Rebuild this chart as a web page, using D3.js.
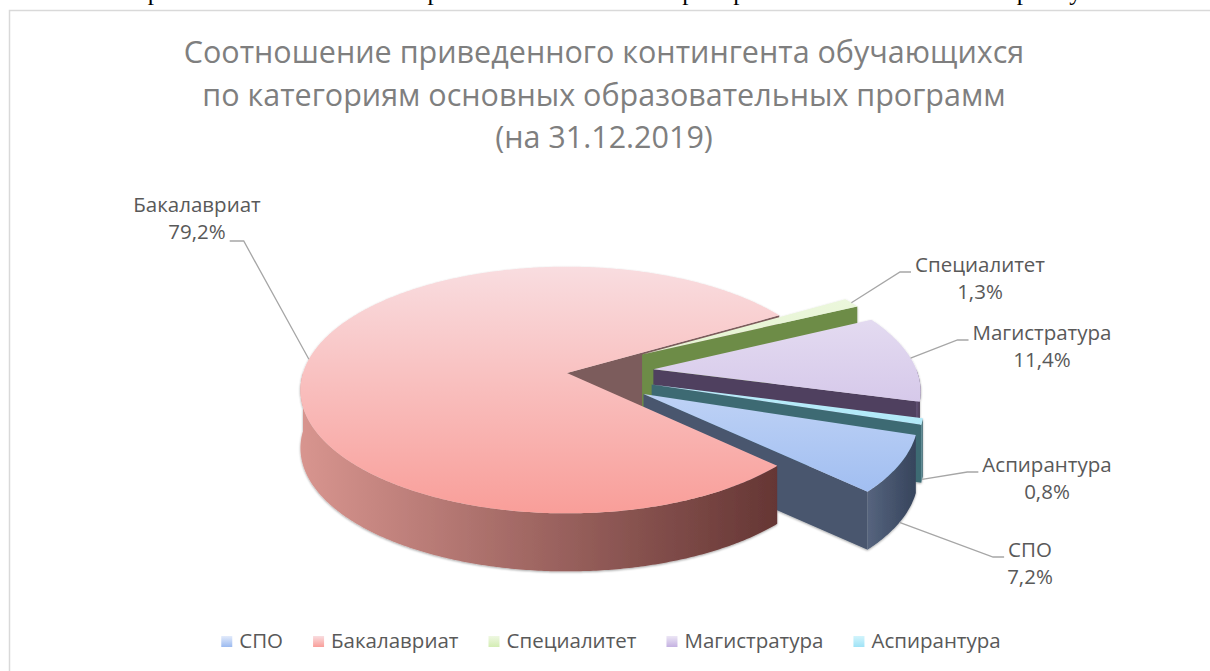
<!DOCTYPE html>
<html>
<head>
<meta charset="utf-8">
<script src="https://cdn.jsdelivr.net/npm/d3@7"></script>
<style>
  body { margin: 0; background: #fff; }
  svg text { font-family: "Open Sans", "Noto Sans", sans-serif; }
</style>
</head>
<body>
<div id="wrapper"></div>
<script>
// data
const categories = ["СПО", "Бакалавриат", "Специалитет", "Магистратура", "Аспирантура"];
const shares = [7.2, 79.2, 1.3, 11.4, 0.8];
const titleLines = [
  "Соотношение приведенного контингента обучающихся",
  "по категориям основных образовательных программ",
  "(на 31.12.2019)",
];
const pageLine = "по категориям основных образовательных программ показано на рисунке 13.";

// colours (light / dark ends of the gradients)
const topLight = ["#e3ebfb", "#f9dde0", "#eff8e2", "#ece6f5", "#d2f4fc"];
const topDark = ["#9bbaf0", "#f99e99", "#d3edb3", "#c4b1e1", "#9fe3f6"];
const wallLight = ["#56647e", "#d8958f", "#8aaa5e", "#65557a", "#4f8590"];
const wallDark = ["#36445c", "#653634", "#5b7a38", "#45364f", "#345e68"];
const cutFill = ["#48566e", "#7c5b5b", "#6d8c47", "#4f405e", "#3d6b73"];

// label placement (centre x, first baseline y) – set by hand like in the original
const labelLayout = [
  [1030, 557],
  [197, 212],
  [980, 272],
  [1042, 340],
  [1047, 472],
];

const width = 1210;
const height = 671;

const fmt = d3.formatLocale({ decimal: ",", thousands: " ", grouping: [3] }).format(".1f");

const svg = d3
  .select("#wrapper")
  .append("svg")
  .attr("width", width)
  .attr("height", height);
const defs = svg.append("defs");

// text line of the document above the chart (only the bottom shows)
svg
  .append("text")
  .attr("x", 2)
  .attr("y", 0)
  .attr("textLength", 1190)
  .attr("lengthAdjust", "spacing")
  .style("font-family", "'Liberation Serif', 'Times New Roman', serif")
  .style("font-size", "25px")
  .attr("fill", "#000")
  .text(pageLine);

// chart frame
svg
  .append("rect")
  .attr("x", 9.5)
  .attr("y", 10.5)
  .attr("width", 1400)
  .attr("height", 900)
  .attr("fill", "#fff")
  .attr("stroke", "#d9d9d9")
  .attr("stroke-width", 1.5);

// title
svg
  .append("g")
  .selectAll("text")
  .data(titleLines)
  .join("text")
  .attr("x", 604)
  .attr("y", (d, i) => 63 + i * 42.5)
  .attr("text-anchor", "middle")
  .attr("fill", "#7f7f7f")
  .style("font-size", "30.5px")
  .text((d) => d);

// 3d pie geometry
const cx = 567;
const cy = 373;
const Rx = 264;
const tiltA = 121; // vertical half-axis before perspective
const persp = 0.138;
const depth = 58;
const explode = 0.33;

// gx, gy in radius units (gy > 0 towards the viewer); h = 0 top, 1 bottom
const proj = (gx, gy, h) => {
  const s = 1 / (1 - persp * gy);
  return [cx + Rx * gx * s, cy + tiltA * gy * s + depth * h];
};
const dirX = (t) => Math.sin(t);
const dirY = (t) => -Math.cos(t);

const data = categories.map((c, i) => ({ name: c, value: shares[i], i }));
const firstSlice = (108 * Math.PI) / 180;
const pie = d3
  .pie()
  .sort(null)
  .value((d) => d.value)
  .startAngle(firstSlice)
  .endAngle(firstSlice + 2 * Math.PI);
const arcs = pie(data);
const maxShare = d3.max(shares);

arcs.forEach((d) => {
  d.mid = (d.startAngle + d.endAngle) / 2;
  d.exploded = d.data.value < maxShare;
  const e = d.exploded ? explode : 0;
  d.ox = e * dirX(d.mid);
  d.oy = e * dirY(d.mid);
});

const rimPts = (d, t0, t1, h) => {
  const n = Math.max(2, Math.ceil(Math.abs(t1 - t0) / 0.01));
  return d3.range(n + 1).map((k) => {
    const t = t0 + ((t1 - t0) * k) / n;
    return proj(d.ox + dirX(t), d.oy + dirY(t), h);
  });
};
const line = d3.line();

const topPath = (d) =>
  line([proj(d.ox, d.oy, 0), ...rimPts(d, d.startAngle, d.endAngle, 0)]) + "Z";

const wallPaths = (d) => {
  const out = [];
  [0, 1].forEach((k) => {
    const a = Math.max(d.startAngle, Math.PI / 2 + 2 * Math.PI * k);
    const b = Math.min(d.endAngle, (3 * Math.PI) / 2 + 2 * Math.PI * k);
    if (b > a) {
      out.push(line([...rimPts(d, a, b, 0), ...rimPts(d, b, a, 1)]) + "Z");
    }
  });
  return out;
};

const cutPaths = (d) => {
  const out = [];
  const face = (t) =>
    line([
      proj(d.ox, d.oy, 0),
      proj(d.ox + dirX(t), d.oy + dirY(t), 0),
      proj(d.ox + dirX(t), d.oy + dirY(t), 1),
      proj(d.ox, d.oy, 1),
    ]) + "Z";
  if (Math.sin(d.startAngle) < 0) out.push(face(d.startAngle));
  if (Math.sin(d.endAngle) > 0) out.push(face(d.endAngle));
  return out;
};

// gradients
const yBack = proj(0, -1, 0)[1];
const yFront = proj(0, 1, 0)[1];
categories.forEach((c, i) => {
  const tg = defs
    .append("linearGradient")
    .attr("id", "top" + i)
    .attr("gradientUnits", "userSpaceOnUse")
    .attr("x1", 0)
    .attr("x2", 0)
    .attr("y1", yBack)
    .attr("y2", yFront);
  tg.append("stop").attr("offset", 0).attr("stop-color", topLight[i]);
  tg.append("stop").attr("offset", 1).attr("stop-color", topDark[i]);

  const wg = defs
    .append("linearGradient")
    .attr("id", "wall" + i)
    .attr("x1", 0)
    .attr("x2", 1)
    .attr("y1", 0)
    .attr("y2", 0);
  wg.append("stop").attr("offset", 0).attr("stop-color", wallLight[i]);
  wg.append("stop").attr("offset", 1).attr("stop-color", wallDark[i]);

  const lg = defs
    .append("linearGradient")
    .attr("id", "leg" + i)
    .attr("x1", 0)
    .attr("x2", 0)
    .attr("y1", 0)
    .attr("y2", 1);
  lg.append("stop").attr("offset", 0).attr("stop-color", topLight[i]);
  lg.append("stop").attr("offset", 1).attr("stop-color", topDark[i]);
});

const shadow = defs.append("filter").attr("id", "shadow").attr("x", "-10%").attr("y", "-10%").attr("width", "120%").attr("height", "130%");
shadow
  .append("feDropShadow")
  .attr("dx", 0)
  .attr("dy", 1)
  .attr("stdDeviation", 1.2)
  .attr("flood-color", "#000")
  .attr("flood-opacity", 0.35);

const pieG = svg.append("g").attr("filter", "url(#shadow)");

const drawCuts = (d) =>
  cutPaths(d).forEach((p) => pieG.append("path").attr("d", p).attr("fill", cutFill[d.data.i]));
const drawWalls = (d) =>
  wallPaths(d).forEach((p) => pieG.append("path").attr("d", p).attr("fill", `url(#wall${d.data.i})`));
const drawTop = (d) =>
  pieG.append("path").attr("d", topPath(d)).attr("fill", `url(#top${d.data.i})`);

const still = arcs.filter((d) => !d.exploded);
const moved = arcs.filter((d) => d.exploded).sort((a, b) => dirY(a.mid) - dirY(b.mid));

still.forEach(drawCuts);
moved.forEach((d) => {
  drawCuts(d);
  drawWalls(d);
  drawTop(d);
});
still.forEach(drawWalls);
still.forEach(drawTop);

// data labels with leader lines
const labelG = svg.append("g");
arcs.forEach((d) => {
  const [lx, ly] = labelLayout[d.data.i];
  const t = labelG
    .append("text")
    .attr("text-anchor", "middle")
    .attr("fill", "#595959")
    .style("font-size", "20.5px");
  const l1 = t.append("tspan").attr("x", lx).attr("y", ly).text(d.data.name);
  const l2 = t
    .append("tspan")
    .attr("x", lx)
    .attr("y", ly + 27)
    .text(fmt(d.data.value) + "%");

  const front = dirY(d.mid) > 0;
  const rim = proj(d.ox + dirX(d.mid), d.oy + dirY(d.mid), front ? 1 : 0);
  let pts;
  if (rim[0] < lx) {
    const w1 = l1.node().getComputedTextLength();
    const a = [lx - w1 / 2 - 4, ly];
    pts = [a, [a[0] - 11, a[1]], rim];
  } else {
    const w2 = l2.node().getComputedTextLength();
    const a = [lx + w2 / 2 + 4, ly + 29];
    pts = [a, [a[0] + 14, a[1]], rim];
  }
  labelG
    .append("path")
    .attr("d", line(pts))
    .attr("fill", "none")
    .attr("stroke", "#a6a6a6")
    .attr("stroke-width", 1.3);
});

// legend
const legend = svg.append("g");
const items = legend
  .selectAll("g")
  .data(categories)
  .join("g");
items
  .append("rect")
  .attr("y", 636)
  .attr("width", 11)
  .attr("height", 11)
  .attr("fill", (d, i) => `url(#leg${i})`);
items
  .append("text")
  .attr("x", 18)
  .attr("y", 648)
  .attr("fill", "#595959")
  .style("font-size", "20.5px")
  .text((d) => d);

let offset = 0;
const gap = 30;
const widths = [];
items.each(function () {
  widths.push(18 + d3.select(this).select("text").node().getComputedTextLength());
});
const total = d3.sum(widths) + gap * (widths.length - 1);
const startX = 611 - total / 2;
items.attr("transform", (d, i) => {
  const x = startX + offset;
  offset += widths[i] + gap;
  return `translate(${x},0)`;
});
</script>
</body>
</html>
